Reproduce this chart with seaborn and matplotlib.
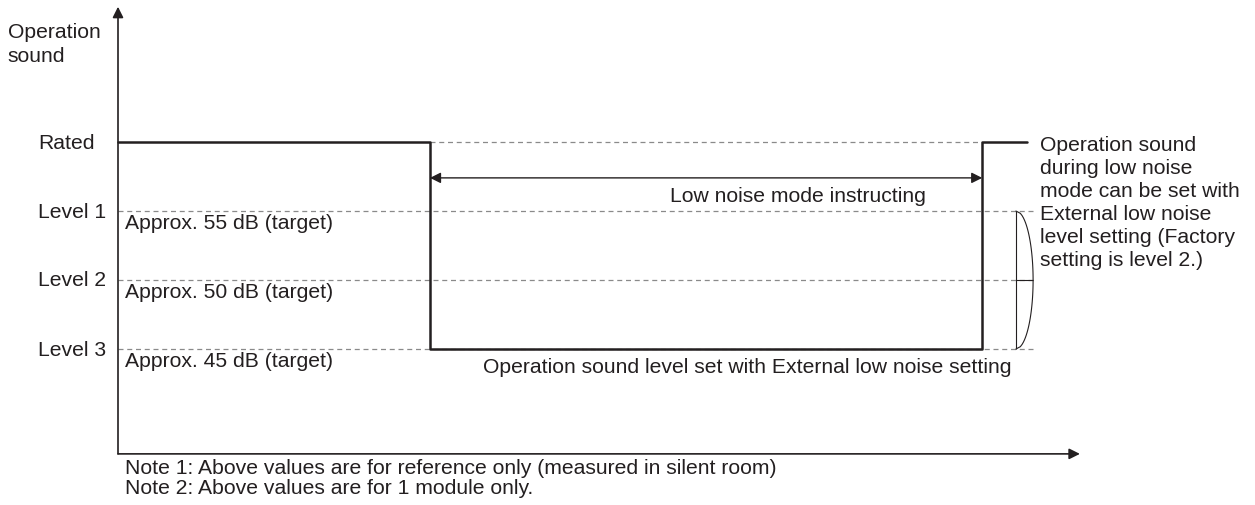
import numpy as np
import pandas as pd
import matplotlib.pyplot as plt
import seaborn as sns

# ---- data ----
level_names = ["Rated", "Level 1", "Level 2", "Level 3"]
level_values = [4, 3, 2, 1]
target_labels = ["Approx. 55 dB (target)", "Approx. 50 dB (target)", "Approx. 45 dB (target)"]

# operation sound over time (arbitrary time units)
times = [0, 10, 10, 27.7, 27.7, 29.13]
sound = [4, 4, 1, 1, 4, 4]

low_start = 10
low_end = 27.7

notes = [
    "Note 1: Above values are for reference only (measured in silent room)",
    "Note 2: Above values are for 1 module only.",
]
side_text = ("Operation sound\nduring low noise\nmode can be set with\n"
             "External low noise\nlevel setting (Factory\nsetting is level 2.)")

df = pd.DataFrame({"time": times, "sound": sound})

# ---- style ----
sns.set_style("white")
plt.rcParams["font.family"] = ["Liberation Sans", "DejaVu Sans"]
ink = "#231f20"
fs = 15.2

fig = plt.figure(figsize=(12.55, 5.06), dpi=100)
ax = fig.add_axes([0, 0, 1, 1])
ax.set_xlim(-118 / 31.2, (1255 - 118) / 31.2)
ax.set_ylim(1 - 156 / 69, 1 + 350 / 69)
ax.axis("off")

x0, y0 = 0, -0.52
x_end, y_top = 30.83, 5.96

# axes with arrows
ax.annotate("", xy=(x0, y_top), xytext=(x0, y0),
            arrowprops=dict(arrowstyle="-|>", color=ink, lw=1.2, mutation_scale=16, shrinkA=0, shrinkB=0))
ax.annotate("", xy=(x_end, y0), xytext=(x0, y0),
            arrowprops=dict(arrowstyle="-|>", color=ink, lw=1.2, mutation_scale=16, shrinkA=0, shrinkB=0))

# dashed reference lines
dash_kw = dict(color="#8a8a8a", lw=0.9, linestyles=(0, (4, 3)))
ax.hlines(level_values[0], low_start, low_end, **dash_kw)
ax.hlines(level_values[1:], x0, 29.33, **dash_kw)

# main operation sound line
sns.lineplot(data=df, x="time", y="sound", sort=False, estimator=None,
             color=ink, lw=1.8, ax=ax, legend=False)

# low noise mode arrow
arrow_y = 3.48
ax.annotate("", xy=(low_end, arrow_y), xytext=(low_start, arrow_y),
            arrowprops=dict(arrowstyle="<|-|>", color=ink, lw=1.0, mutation_scale=16, shrinkA=0, shrinkB=0))
ax.text(21.8, 3.22, "Low noise mode instructing", fontsize=fs, color=ink, ha="center", va="center")

# level labels
for name, val in zip(level_names, level_values):
    ax.text(-2.56, val, name, fontsize=fs, color=ink, ha="left", va="center")
for lab, val in zip(target_labels, level_values[1:]):
    ax.text(0.22, val - 0.17, lab, fontsize=fs, color=ink, ha="left", va="center")

ax.text(11.7, 0.74, "Operation sound level set with External low noise setting",
        fontsize=fs, color=ink, ha="left", va="center")

# bracket for selectable range
bx, bulge = 28.78, 29.33
ax.vlines(bx, level_values[3], level_values[1], color=ink, lw=0.8)
ax.hlines(level_values[2], bx, bulge, color=ink, lw=0.8)
yy = np.linspace(level_values[3], level_values[1], 60)
xx = bx + (bulge - bx) * np.sqrt(np.clip(1 - ((yy - level_values[2]) / 1.0) ** 2, 0, 1))
ax.plot(xx, yy, color=ink, lw=0.8)

ax.text(29.55, 4.10, side_text, fontsize=fs, color=ink, ha="left", va="top", linespacing=1.26)

# y axis title
ax.text(-3.53, 5.74, "Operation\nsound", fontsize=fs, color=ink, ha="left", va="top", linespacing=1.36)

# notes
ax.text(0.22, 1 - 119 / 69, notes[0], fontsize=fs, color=ink, ha="left", va="center")
ax.text(0.22, 1 - 139 / 69, notes[1], fontsize=fs, color=ink, ha="left", va="center")

fig.savefig("out.png", dpi=100)
